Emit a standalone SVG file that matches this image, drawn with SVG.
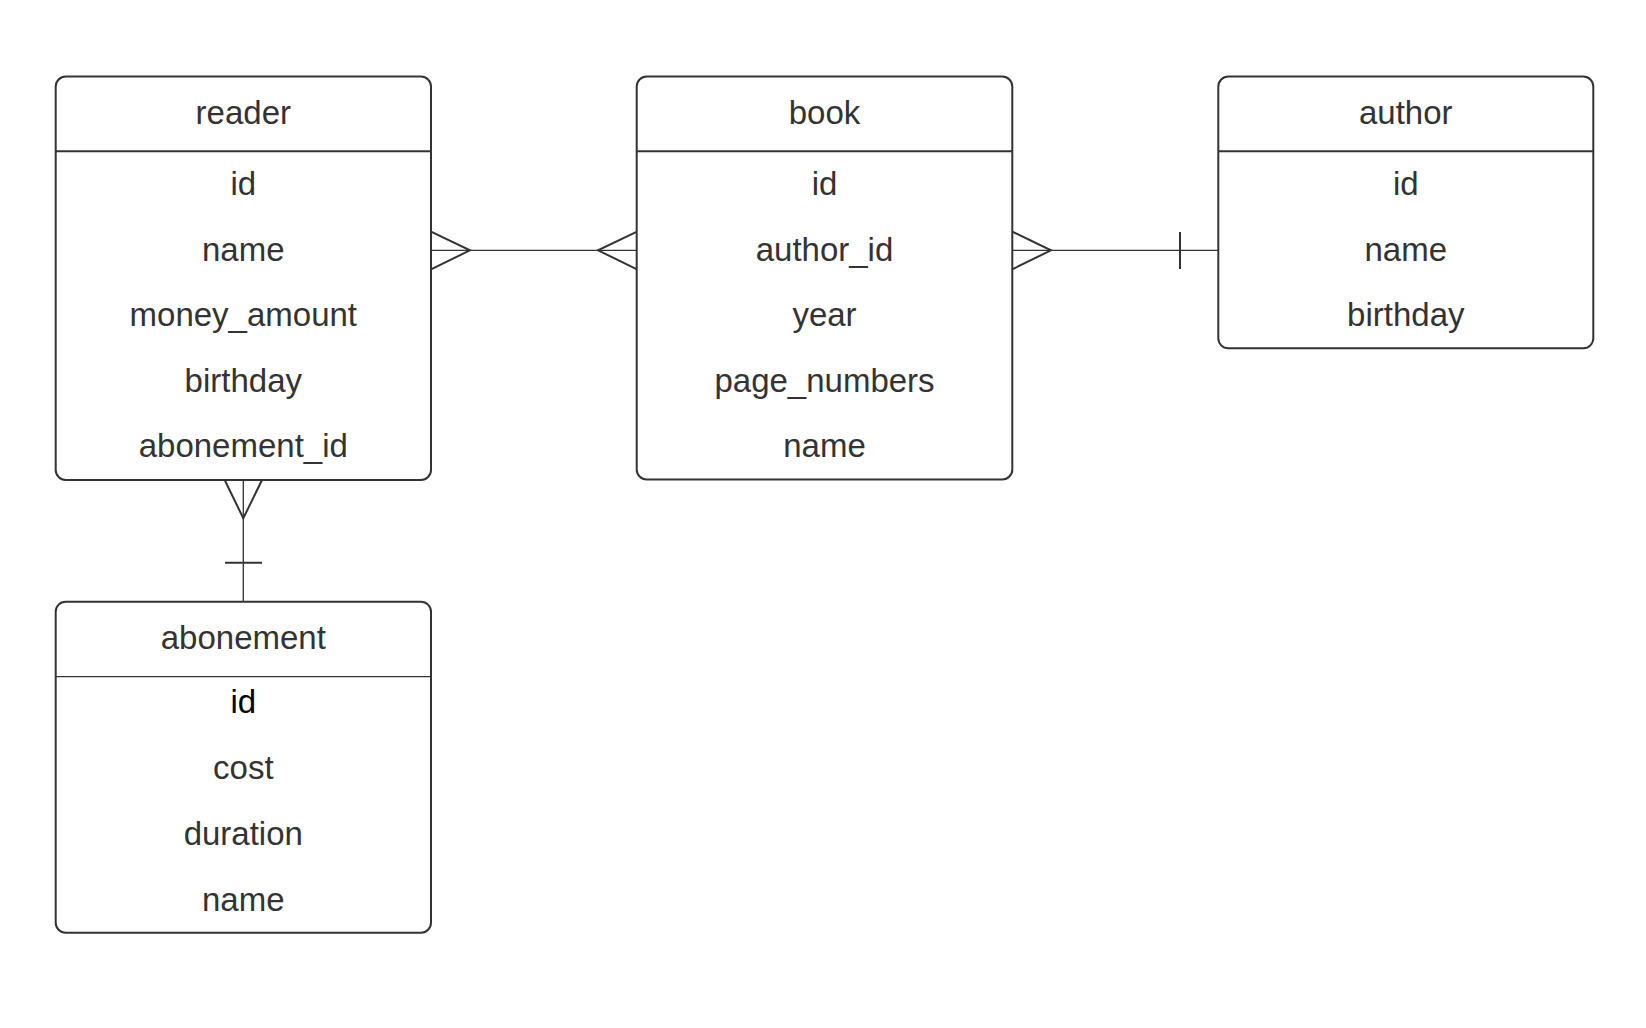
<svg xmlns="http://www.w3.org/2000/svg" width="1646" height="1028" viewBox="0 0 1646 1028">
  <style>
    .box { fill: #ffffff; stroke: #333333; stroke-width: 2; }
    .div { stroke: #333333; stroke-width: 2; }
    .div-thin { stroke: #333333; stroke-width: 1.2; }
    .t { font-family: "Liberation Sans", Arial, sans-serif; font-size: 33px; fill: #333333; text-anchor: middle; }
    .t-dark { fill: #000000; }
    .line { stroke: #333333; stroke-width: 1.3; fill: none; }
    .foot { stroke: #333333; stroke-width: 2; fill: none; }
  </style>
  <rect width="1646" height="1028" fill="#ffffff"/>

  <!-- relationships -->
  <g id="connectors">
    <!-- reader >-< book -->
    <line class="line" x1="431" y1="250.3" x2="637" y2="250.3"/>
    <polyline class="foot" points="431,231.7 470,250.3 431,269.3"/>
    <polyline class="foot" points="637,231.7 598,250.3 637,269.3"/>
    <!-- book >-| author -->
    <line class="line" x1="1012.3" y1="250.3" x2="1218.3" y2="250.3"/>
    <polyline class="foot" points="1012.3,231.7 1051,250.3 1012.3,269.3"/>
    <line class="foot" x1="1180" y1="232" x2="1180" y2="269"/>
    <!-- reader >-| abonement -->
    <line class="line" x1="243.3" y1="480" x2="243.3" y2="601.7"/>
    <polyline class="foot" points="224.7,480 243.3,518.3 262,480"/>
    <line class="foot" x1="225" y1="562.7" x2="262" y2="562.7"/>
  </g>

  <g id="reader">
    <rect class="box" x="55.7" y="76.5" width="375.3" height="403.5" rx="10"/>
    <line class="div" x1="55.7" y1="151.3" x2="431" y2="151.3"/>
    <text class="t" x="243.3" y="124.3">reader</text>
    <text class="t" x="243.3" y="195.3">id</text>
    <text class="t" x="243.3" y="261">name</text>
    <text class="t" x="243.3" y="326.3">money_amount</text>
    <text class="t" x="243.3" y="391.5">birthday</text>
    <text class="t" x="243.3" y="457">abonement_id</text>
  </g>

  <g id="book">
    <rect class="box" x="636.7" y="76.5" width="375.6" height="403" rx="10"/>
    <line class="div" x1="636.7" y1="151.3" x2="1012.3" y2="151.3"/>
    <text class="t" x="824.5" y="124.3">book</text>
    <text class="t" x="824.5" y="195.3">id</text>
    <text class="t" x="824.5" y="261">author_id</text>
    <text class="t" x="824.5" y="326.3">year</text>
    <text class="t" x="824.5" y="391.8">page_numbers</text>
    <text class="t" x="824.5" y="457.3">name</text>
  </g>

  <g id="author">
    <rect class="box" x="1218.3" y="76.5" width="375" height="271.8" rx="10"/>
    <line class="div" x1="1218.3" y1="151.3" x2="1593.3" y2="151.3"/>
    <text class="t" x="1405.8" y="124.3">author</text>
    <text class="t" x="1405.8" y="195">id</text>
    <text class="t" x="1405.8" y="261">name</text>
    <text class="t" x="1405.8" y="326.3">birthday</text>
  </g>

  <g id="abonement">
    <rect class="box" x="55.7" y="601.7" width="375.3" height="331" rx="10"/>
    <line class="div-thin" x1="55.7" y1="676.7" x2="431" y2="676.7"/>
    <text class="t" x="243.3" y="649.3">abonement</text>
    <text class="t t-dark" x="243.3" y="712.5">id</text>
    <text class="t" x="243.3" y="779">cost</text>
    <text class="t" x="243.3" y="844.8">duration</text>
    <text class="t" x="243.3" y="910.8">name</text>
  </g>
</svg>
